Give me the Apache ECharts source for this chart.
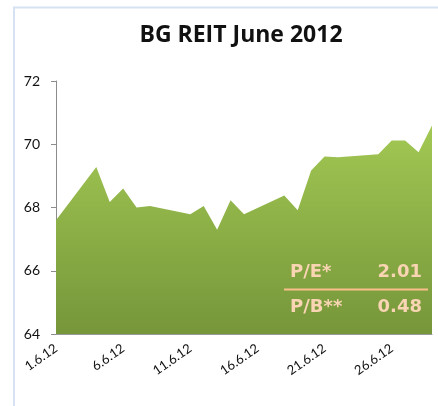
<!DOCTYPE html>
<html>
<head>
<meta charset="utf-8">
<script src="https://cdn.jsdelivr.net/npm/echarts@6/dist/echarts.min.js"></script>
<style>
html,body{margin:0;padding:0;background:#fff;}
#chart{width:438px;height:406px;}
</style>
</head>
<body>
<div id="chart"></div>
<script>
// trading days of June 2012 and closing prices
var days = [1, 4, 5, 6, 7, 8, 11, 12, 13, 14, 15, 18, 19, 20, 21, 22, 25, 26, 27, 28, 29];
var prices = [67.6, 69.28, 68.17, 68.6, 68.0, 68.05, 67.79, 68.05, 67.3, 68.23, 67.79,
	68.38, 67.91, 69.17, 69.61, 69.59, 69.68, 70.12, 70.12, 69.75, 70.59];
var yTicks = [64, 66, 68, 70, 72];
var ratioLabels = ['P/E*', 'P/B**'];
var ratioValues = ['2.01', '0.48'];

var seriesData = [];
for (var i = 0; i < days.length; i++) {
	seriesData.push([days[i] - 1, prices[i]]);
}

var font = 'Lato, "Open Sans", sans-serif';
var ratioFont = 'bold 18px "DejaVu Sans", sans-serif';
var myChart = echarts.init(document.getElementById('chart'));
var option = {
	animation: false,
	title: {
		text: 'BG REIT June 2012',
		left: 236,
		textAlign: 'center',
		top: 19,
		textStyle: {fontFamily: '"Open Sans", sans-serif', fontSize: 23, fontWeight: 'bold', color: '#111'}
	},
	grid: {left: 56, right: 6, top: 81, bottom: 72},
	xAxis: {
		type: 'value',
		min: 0,
		max: 28,
		interval: 5,
		splitLine: {show: false},
		axisTick: {show: false},
		axisLine: {show: true, lineStyle: {color: '#9a9a9a', width: 1}},
		axisLabel: {
			rotate: 35,
			margin: 13,
			showMaxLabel: false,
			fontFamily: font,
			fontSize: 13,
			color: '#111',
			formatter: function (v) { return (v + 1) + '.6.12'; }
		}
	},
	yAxis: {
		type: 'value',
		min: yTicks[0],
		max: yTicks[yTicks.length - 1],
		interval: 2,
		splitLine: {show: false},
		axisLine: {show: true, lineStyle: {color: '#8c8c8c', width: 1}},
		axisTick: {show: true, length: 5, lineStyle: {color: '#8c8c8c'}},
		axisLabel: {margin: 16, fontFamily: font, fontSize: 14, color: '#111'}
	},
	series: [{
		type: 'line',
		data: seriesData,
		symbol: 'none',
		lineStyle: {width: 0},
		areaStyle: {
			opacity: 1,
			origin: 'start',
			color: new echarts.graphic.LinearGradient(0, 0, 0, 1, [
				{offset: 0, color: '#a2c853'},
				{offset: 1, color: '#76963a'}
			])
		},
		z: 2
	}],
	graphic: [
		{
			type: 'rect',
			shape: {x: 14, y: 7.5, width: 600, height: 600},
			style: {fill: 'none', stroke: '#d6e2f1', lineWidth: 2},
			z: 0
		},
		{
			type: 'line',
			shape: {x1: 284, y1: 289.5, x2: 428, y2: 289.5},
			style: {stroke: '#f8bf8d', lineWidth: 2},
			z: 10
		},
		{
			type: 'text', left: 290, top: 263, z: 10,
			style: {text: ratioLabels[0], fill: '#f9d5b4', font: ratioFont}
		},
		{
			type: 'text', left: 290, top: 298, z: 10,
			style: {text: ratioLabels[1], fill: '#f9d5b4', font: ratioFont}
		},
		{
			type: 'text', right: 16, top: 263, z: 10,
			style: {text: ratioValues[0], fill: '#f9d5b4', font: ratioFont}
		},
		{
			type: 'text', right: 16, top: 298, z: 10,
			style: {text: ratioValues[1], fill: '#f9d5b4', font: ratioFont}
		}
	]
};
myChart.setOption(option);
</script>
</body>
</html>
